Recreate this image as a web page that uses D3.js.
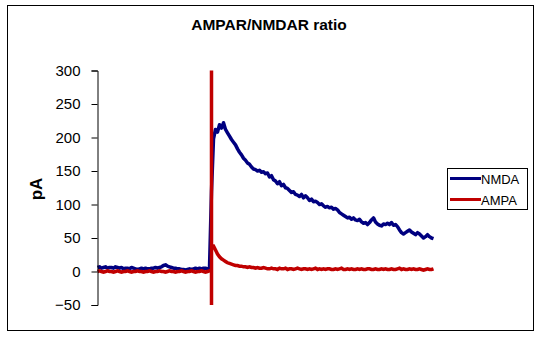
<!DOCTYPE html>
<html>
<head>
<meta charset="utf-8">
<script src="https://cdn.jsdelivr.net/npm/d3@7"></script>
<style>
  html, body { margin: 0; padding: 0; background: #fff; }
  svg { display: block; }
  text { font-family: Arial, "Liberation Sans", sans-serif; }
</style>
</head>
<body>
<svg id="chart" width="541" height="339"></svg>
<script>
// ---- data ----
const title = "AMPAR/NMDAR ratio";
const yLabel = "pA";
const seriesNames = ["NMDA", "AMPA"];
const yTicks = [-50, 0, 50, 100, 150, 200, 250, 300];
// sample times (ms), every 2 ms
const time = d3.range(0, 337, 2);
const stimTime = 114;
const artifact = [300, -50];

const nmda = [
  // baseline t0..t112
  6,7,5,6,7,5,6,6,5,7,6,
  5,6,4,5,5,4,6,5,4,3,4,5,4,5,4,
  4,5,5,6,5,6,7,9,10,8,7,6,5,5,4,
  4,3,3,2,3,4,3,4,5,4,5,4,5,5,4,5,
  // stimulus t114
  120,
  // response t116..t336
  198,212,208,219,214,222,212,207,202,197,193,189,183,178,174,169,166,162,160,156,
  153,152,150,151,148,149,146,147,141,143,137,135,131,134,128,130,125,124,121,118,
  119,115,114,112,115,110,113,110,106,108,104,105,103,100,101,98,96,97,95,96,
  93,94,92,88,86,84,82,80,81,78,80,77,76,78,74,72,73,70,73,77,
  80,74,71,69,68,71,70,72,70,73,69,70,67,62,58,56,58,60,62,59,
  57,55,58,56,53,50,52,55,52,50,49
];

const ampa = [
  // baseline t0..t112
  0,1,0,-1,0,1,0,0,-1,0,1,0,-1,0,0,1,0,-1,0,0,
  1,0,0,-1,0,0,1,0,-1,0,0,1,0,0,-1,0,1,0,0,-1,
  0,0,1,0,-1,0,0,1,0,-1,0,0,1,0,-1,0,1,
  // stimulus t114
  0,
  // response t116..t336
  38,32,26,22,19,17,15,13,12,11,10,9,9,8,8,7,
  7,6,7,6,6,5,6,5,5,6,5,4,
  4,5,4,4,3,5,4,4,5,3,4,4,3,4,5,4,3,4,4,3,
  4,3,4,5,3,4,3,4,3,4,4,3,3,4,3,4,5,3,3,4,
  3,4,3,3,4,3,4,3,3,4,4,3,3,4,3,3,4,3,4,3,
  3,4,3,3,4,5,3,4,3,3,4,3,4,3,3,4,3,2,3,4,
  3,3,4
];

const colors = ["#000080", "#c00000"];

// ---- build point lists ----
const nmdaPts = time.map((t, i) => ({ t, v: nmda[i] }));
const ampaPts = [];
time.forEach((t, i) => {
  ampaPts.push({ t, v: ampa[i] });
  if (t === stimTime) {
    artifact.forEach(v => ampaPts.push({ t, v }));
    ampaPts.push({ t, v: ampa[i + 1] });
  }
});

// ---- drawing ----
const svg = d3.select("#chart");

// outer border
svg.append("rect")
  .attr("x", 7.5).attr("y", 5.5)
  .attr("width", 526).attr("height", 325)
  .attr("fill", "#fff").attr("stroke", "#000").attr("stroke-width", 1);

const x = d3.scaleLinear().domain([0, 336]).range([97.5, 433.5]);
const y = d3.scaleLinear().domain([-50, 300]).range([305, 70.5]);

// title
svg.append("text")
  .attr("x", 269).attr("y", 30)
  .attr("text-anchor", "middle")
  .style("font-size", "15.5px").style("font-weight", "bold")
  .text(title);

// y label
svg.append("text")
  .attr("transform", "translate(42,189) rotate(-90)")
  .attr("text-anchor", "middle")
  .style("font-size", "17px").style("font-weight", "bold")
  .text(yLabel);

// lines
const line = d3.line().x(d => x(d.t)).y(d => y(d.v));
const plot = svg.append("g");
plot.append("path").datum(nmdaPts)
  .attr("d", line).attr("fill", "none")
  .attr("stroke", colors[0]).attr("stroke-width", 3.5)
  .attr("stroke-linejoin", "round");
plot.append("path").datum(ampaPts)
  .attr("d", line).attr("fill", "none")
  .attr("stroke", colors[1]).attr("stroke-width", 3.5)
  .attr("stroke-linejoin", "miter");

// y axis
const yAxis = d3.axisLeft(y).tickValues(yTicks).tickSize(6).tickSizeOuter(6).tickPadding(11);
const gA = svg.append("g").attr("transform", "translate(97.5,0)").call(yAxis);
gA.select(".domain").attr("stroke", "#000");
gA.selectAll(".tick line").attr("stroke", "#000");
gA.selectAll(".tick text")
  .attr("fill", "#000")
  .style("font-size", "15px")
  .style("font-family", "Arial, 'Liberation Sans', sans-serif");

// legend
const lg = svg.append("g");
lg.append("rect")
  .attr("x", 447.5).attr("y", 168.5)
  .attr("width", 80).attr("height", 41)
  .attr("fill", "#fff").attr("stroke", "#000").attr("stroke-width", 1);
seriesNames.forEach((name, i) => {
  const yy = 178.5 + i * 21;
  lg.append("line")
    .attr("x1", 450).attr("x2", 481)
    .attr("y1", yy).attr("y2", yy)
    .attr("stroke", colors[i]).attr("stroke-width", 3);
  lg.append("text")
    .attr("x", 481).attr("y", yy + 5)
    .style("font-size", "13px")
    .text(name);
});
</script>
</body>
</html>
